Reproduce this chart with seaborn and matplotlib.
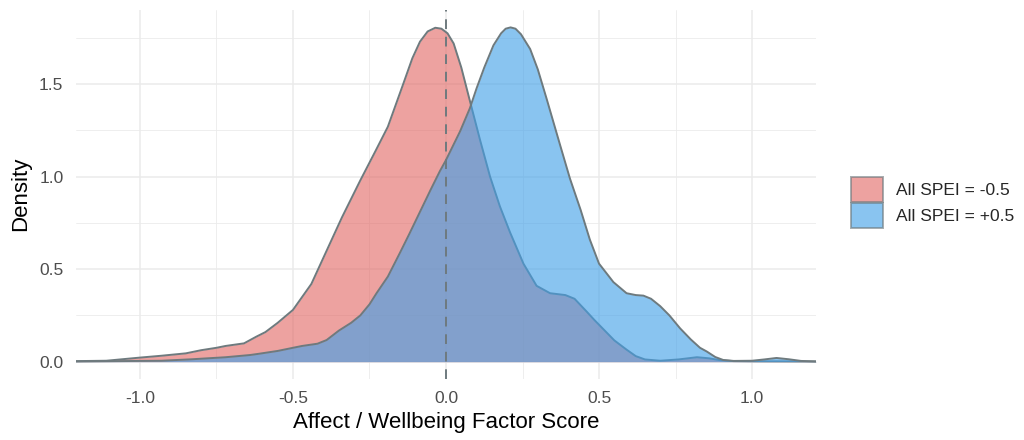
import matplotlib
matplotlib.use("Agg")
import matplotlib.pyplot as plt
from matplotlib.patches import Patch
from matplotlib.ticker import MultipleLocator
import numpy as np
import pandas as pd
import seaborn as sns

# density curves
red_x = [-1.21, -1.11, -1.00, -0.93, -0.85, -0.80, -0.75, -0.72, -0.66, -0.62,
         -0.59, -0.55, -0.50, -0.47, -0.44, -0.39, -0.34, -0.28, -0.23, -0.19,
         -0.14, -0.11, -0.085, -0.06, -0.035, -0.015, 0.005, 0.025, 0.05, 0.078,
         0.111, 0.144, 0.176, 0.209, 0.253, 0.296, 0.34, 0.39, 0.42, 0.46,
         0.485, 0.55, 0.59, 0.62, 0.65, 0.70, 0.76, 0.82, 0.86, 0.895,
         0.94, 1.0, 1.21]
red_y = [0.003, 0.005, 0.022, 0.032, 0.045, 0.062, 0.075, 0.085, 0.099, 0.135,
         0.16, 0.21, 0.28, 0.35, 0.42, 0.60, 0.78, 0.98, 1.14, 1.27,
         1.50, 1.64, 1.73, 1.785, 1.805, 1.80, 1.775, 1.72, 1.59, 1.41,
         1.20, 1.00, 0.84, 0.70, 0.53, 0.41, 0.37, 0.36, 0.34, 0.27,
         0.225, 0.115, 0.065, 0.03, 0.012, 0.005, 0.012, 0.024, 0.018, 0.008,
         0.003, 0.002, 0.001]

blue_x = [-1.21, -1.00, -0.93, -0.83, -0.72, -0.64, -0.61, -0.55, -0.50, -0.47,
          -0.42, -0.39, -0.35, -0.31, -0.28, -0.25, -0.227, -0.19, -0.15, -0.12,
          -0.085, -0.05, -0.02, 0.0, 0.046, 0.078, 0.10, 0.125, 0.155, 0.18,
          0.195, 0.211, 0.227, 0.245, 0.275, 0.30, 0.329, 0.373, 0.405, 0.44,
          0.47, 0.50, 0.547, 0.59, 0.62, 0.645, 0.67, 0.70, 0.73, 0.765,
          0.80, 0.83, 0.852, 0.88, 0.906, 0.94, 1.0, 1.04, 1.08, 1.12,
          1.16, 1.21]
blue_y = [0.001, 0.004, 0.005, 0.013, 0.024, 0.036, 0.043, 0.058, 0.075, 0.085,
          0.097, 0.117, 0.168, 0.21, 0.25, 0.31, 0.37, 0.46, 0.59, 0.69,
          0.81, 0.93, 1.03, 1.09, 1.245, 1.37, 1.478, 1.59, 1.71, 1.775,
          1.80, 1.807, 1.80, 1.77, 1.69, 1.58, 1.42, 1.17, 0.99, 0.82,
          0.66, 0.53, 0.43, 0.37, 0.36, 0.357, 0.34, 0.30, 0.25, 0.18,
          0.12, 0.075, 0.055, 0.025, 0.009, 0.004, 0.005, 0.012, 0.02, 0.013,
          0.004, 0.001]

labels = ["All SPEI = -0.5", "All SPEI = +0.5"]
x_ticks = [-1.0, -0.5, 0.0, 0.5, 1.0]
y_ticks = [0.0, 0.5, 1.0, 1.5]

df = pd.concat([
    pd.DataFrame({"score": red_x, "density": red_y, "group": labels[0]}),
    pd.DataFrame({"score": blue_x, "density": blue_y, "group": labels[1]}),
])

fills = {labels[0]: "#E26966", labels[1]: "#41A0E8"}
alpha = 0.62
edge = "#6E7A7E"

sns.set_style("white")
plt.rcParams["font.family"] = ["Liberation Sans", "DejaVu Sans"]
plt.rcParams["axes.unicode_minus"] = False

fig = plt.figure(figsize=(10.24, 4.4), dpi=100)
ax = fig.add_axes([76 / 1024, 61.5 / 440, 740 / 1024, 368.5 / 440])

# each group: fill then outline, second group stacked on top
for i, lab in enumerate(labels):
    d = df[df["group"] == lab]
    ax.fill_between(d["score"], d["density"], 0, color=fills[lab], alpha=alpha,
                    linewidth=0, zorder=2 + 2 * i)
    sns.lineplot(data=d, x="score", y="density", color=edge, linewidth=1.4,
                 ax=ax, legend=False, zorder=3 + 2 * i,
                 solid_joinstyle="round", solid_capstyle="round")

ax.axvline(0, color=edge, linewidth=1.4, dashes=(5, 4), zorder=10)

ax.set_xlim(-1.209, 1.209)
ax.set_ylim(-0.091, 1.901)
ax.set_xticks(x_ticks)
ax.set_yticks(y_ticks)
ax.xaxis.set_minor_locator(MultipleLocator(0.25))
ax.yaxis.set_minor_locator(MultipleLocator(0.25))
ax.grid(which="major", color="#EBEBEB", linewidth=1.1, zorder=0)
ax.grid(which="minor", color="#EBEBEB", linewidth=0.6, zorder=0)
ax.set_axisbelow(True)
for s in ax.spines.values():
    s.set_visible(False)
ax.tick_params(which="both", length=0, labelsize=12.5, labelcolor="#4D4D4D")
ax.tick_params(axis="x", pad=9)
ax.tick_params(axis="y", pad=9)

ax.set_xlabel("Affect / Wellbeing Factor Score", fontsize=16, color="black", labelpad=4)
ax.set_ylabel("Density", fontsize=16, color="black", labelpad=6)

handles = [Patch(facecolor=fills[l], alpha=alpha, edgecolor=edge, linewidth=1.4)
           for l in labels]
fig.legend(handles, labels, loc="center left", bbox_to_anchor=(851 / 1024, 0.539),
           frameon=False, fontsize=12.5, borderpad=0, borderaxespad=0,
           handlelength=1.85, handleheight=1.85, labelspacing=0.05,
           handletextpad=0.75)

fig.savefig("out.png", dpi=100)
